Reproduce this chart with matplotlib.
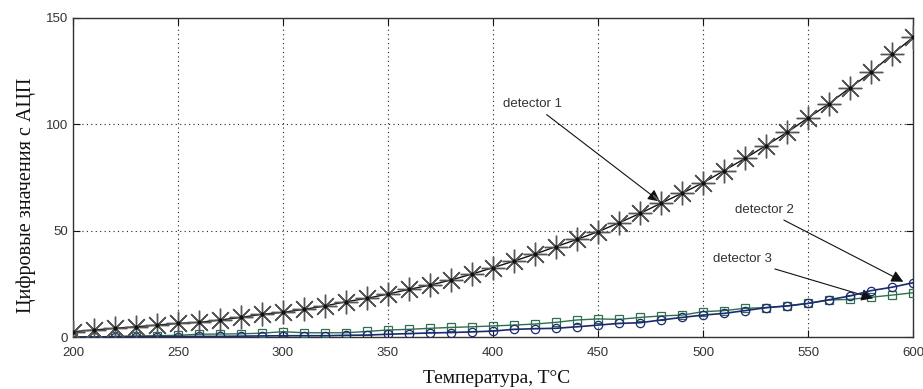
import matplotlib
matplotlib.use("Agg")
import matplotlib.pyplot as plt
import numpy as np

# temperature grid, °C
temps = list(range(200, 601, 10))

det1 = [2.5, 3.3, 4.1, 4.8, 5.6, 6.4, 6.9, 8.0, 9.2, 10.7, 11.6, 13.0,
        14.6, 16.6, 18.2, 20.2, 22.4, 24.4, 26.8, 29.6, 32.6, 35.7, 39.0,
        42.5, 45.9, 49.5, 53.7, 58.1, 62.9, 67.6, 72.5, 78.2, 84.0, 90.0,
        96.2, 103.0, 109.7, 117.2, 124.4, 132.9, 140.9]
det2 = [0.0, 0.0, 0.1, 0.1, 0.2, 0.2, 0.3, 0.3, 0.4, 0.5, 0.6, 0.6,
        0.6, 0.8, 0.9, 1.3, 1.6, 1.9, 2.1, 2.4, 2.8, 3.6, 3.9,
        4.1, 4.8, 5.6, 6.4, 6.7, 8.0, 9.2, 10.3, 11.1, 12.4, 13.8,
        14.6, 15.8, 17.5, 19.3, 21.8, 23.4, 25.5]
det3 = [0.0, 0.0, 0.3, 0.5, 0.6, 0.8, 1.3, 1.4, 1.5, 1.8, 2.5, 2.0,
        2.0, 2.0, 2.6, 3.3, 3.6, 4.1, 4.5, 4.8, 5.2, 5.6, 6.1,
        6.9, 8.0, 8.5, 8.3, 9.2, 9.9, 10.3, 11.9, 12.4, 13.5, 13.8,
        14.6, 15.8, 17.4, 17.7, 18.7, 19.7, 20.8]

xticks = [200, 250, 300, 350, 400, 450, 500, 550, 600]
yticks = [0, 50, 100, 150]

C = {"ink": "#111111", "grid": "#222222", "blue": "#1c2a6e",
     "green": "#2f6f4f", "star": "#555555"}

fig = plt.figure(figsize=(9.23, 3.89), dpi=100)
ax = fig.add_axes([73 / 923, 1 - 337 / 389, 840 / 923, 319 / 389])

ax.plot(temps, det3, color=C["green"], linewidth=1.0, marker="s",
        markersize=6, markerfacecolor="none", markeredgecolor=C["green"],
        markeredgewidth=0.9, zorder=3)
ax.plot(temps, det2, color=C["blue"], linewidth=1.2, marker="o",
        markersize=6, markerfacecolor="none", markeredgecolor=C["blue"],
        markeredgewidth=0.9, zorder=4)
ax.plot(temps, det1, color=C["ink"], linewidth=1.0, marker=(8, 2, 0),
        markersize=17, markeredgecolor=C["star"], markeredgewidth=1.0,
        zorder=5)
ax.plot(temps, det1, linestyle="none", marker=".", markersize=4,
        color=C["ink"], zorder=6)

ax.set_xlim(200, 600)
ax.set_ylim(0, 150)
ax.set_xticks(xticks)
ax.set_yticks(yticks)
ax.grid(True, linestyle=(0, (1, 3)), color=C["grid"], linewidth=0.8)
ax.tick_params(direction="in", top=True, right=True, length=5,
               labelsize=9.5, colors=C["ink"], labelcolor="#333333")
ax.tick_params(axis="x", pad=7)
for lab in ax.get_xticklabels() + ax.get_yticklabels():
    lab.set_family("Liberation Sans")
for s in ax.spines.values():
    s.set_color("#333333")
    s.set_linewidth(1.0)

ax.set_xlabel("Температура, T°C", family="Liberation Serif", fontsize=14,
              color=C["ink"])
ax.set_ylabel("Цифровые значения с АЦП", family="Liberation Serif",
              fontsize=14.5, color=C["ink"])
ax.xaxis.set_label_coords(0.504, -0.105)
ax.yaxis.set_label_coords(-0.044, 0.445)

arrow = dict(arrowstyle="-|>", color=C["ink"], linewidth=0.8,
             mutation_scale=18, shrinkA=2, shrinkB=0)
tfont = dict(family="Liberation Sans", fontsize=9.5, color="#333333",
             va="center", ha="left")
ax.annotate("detector 1", xy=(479.5, 63.7), xytext=(405, 109.5),
            arrowprops=arrow, **tfont)
ax.annotate("detector 2", xy=(595.4, 26.0), xytext=(515.2, 59.7),
            arrowprops=arrow, **tfont)
ax.annotate("detector 3", xy=(581.1, 18.2), xytext=(504.9, 36.5),
            arrowprops=arrow, **tfont)

fig.savefig("out.png", dpi=100, facecolor="white")
